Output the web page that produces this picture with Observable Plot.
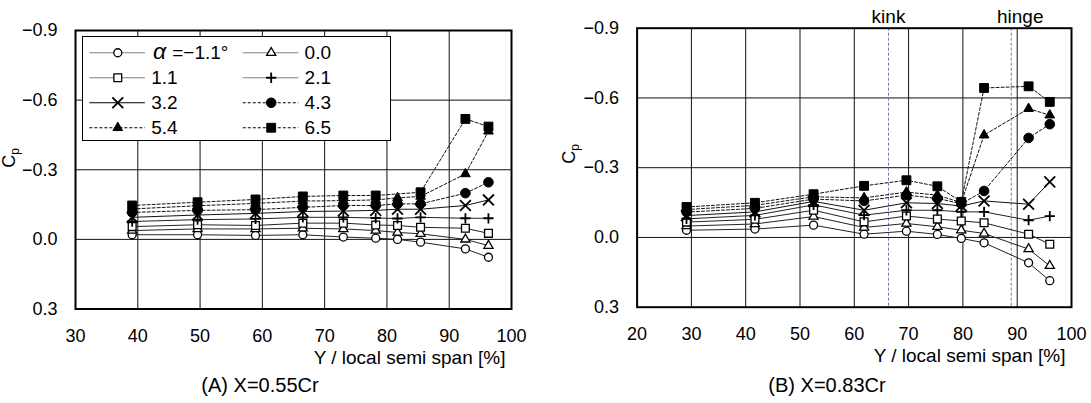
<!DOCTYPE html>
<html>
<head>
<meta charset="utf-8">
<script src="https://cdn.jsdelivr.net/npm/d3@7"></script>
<script src="https://cdn.jsdelivr.net/npm/@observablehq/plot@0.6"></script>
<style>
  body { margin: 0; background: #fff; font-family: "Liberation Sans", Arial, sans-serif; }
  #root { position: relative; width: 1091px; height: 403px; overflow: hidden; }
  .panel { position: absolute; top: 0; }
  .legend { position: absolute; }
  .caption { position: absolute; top: 373px; width: 300px; text-align: center; font-size: 20px; line-height: 24px; color: #000; }
</style>
</head>
<body>
<div id="root"></div>
<script>
// Angles of attack (deg) for each pressure series
const angles = ["-1.1", "0.0", "1.1", "2.1", "3.2", "4.3", "5.4", "6.5"];

// Pressure coefficient axis ticks (reversed: suction up)
const cpTicks = [-0.9, -0.6, -0.3, 0.0, 0.3];

// (A) X = 0.55 Cr : spanwise stations [%] and Cp per angle
const spanTicksA = [30, 40, 50, 60, 70, 80, 90, 100];
const spanA = [39.1, 49.6, 58.9, 66.5, 73.0, 78.2, 81.7, 85.4, 92.6, 96.3];
const cpA_m11 = [-0.020, -0.020, -0.017, -0.020, -0.010, -0.005, 0.000, 0.012, 0.041, 0.077];
const cpA_00  = [-0.038, -0.045, -0.045, -0.048, -0.045, -0.038, -0.030, -0.024, 0.000, 0.027];
const cpA_11  = [-0.055, -0.063, -0.060, -0.070, -0.070, -0.062, -0.060, -0.052, -0.048, -0.026];
const cpA_21  = [-0.077, -0.085, -0.088, -0.095, -0.095, -0.092, -0.090, -0.095, -0.091, -0.091];
const cpA_32  = [-0.095, -0.105, -0.112, -0.120, -0.122, -0.125, -0.130, -0.130, -0.146, -0.170];
const cpA_43  = [-0.116, -0.125, -0.128, -0.138, -0.146, -0.146, -0.153, -0.153, -0.199, -0.246];
const cpA_54  = [-0.131, -0.145, -0.155, -0.165, -0.167, -0.170, -0.179, -0.185, -0.282, -0.466];
const cpA_65  = [-0.146, -0.160, -0.172, -0.185, -0.189, -0.189, null, -0.203, -0.519, -0.486];

// (B) X = 0.83 Cr
const spanTicksB = [20, 30, 40, 50, 60, 70, 80, 90, 100];
const spanB = [29.1, 41.7, 52.5, 61.8, 69.6, 75.3, 79.7, 83.9, 92.1, 96.0];
const cpB_m11 = [-0.031, -0.036, -0.053, -0.014, -0.027, -0.013, 0.004, 0.023, 0.109, 0.186];
const cpB_00  = [-0.049, -0.058, -0.090, -0.043, -0.060, -0.046, -0.031, -0.017, 0.050, 0.122];
const cpB_11  = [-0.066, -0.078, -0.117, -0.067, -0.092, -0.079, -0.071, -0.063, -0.014, 0.029];
const cpB_21  = [-0.080, -0.095, -0.140, -0.096, -0.117, -0.117, -0.110, -0.110, -0.074, -0.092];
const cpB_32  = [-0.094, -0.110, -0.155, -0.117, -0.149, -0.146, -0.135, -0.157, -0.143, -0.239];
const cpB_43  = [-0.109, -0.125, -0.165, -0.157, -0.182, -0.168, -0.145, -0.200, -0.428, -0.487];
const cpB_54  = [-0.120, -0.138, -0.175, -0.170, -0.195, -0.182, -0.150, -0.440, -0.554, -0.526];
const cpB_65  = [-0.131, -0.149, -0.186, -0.222, -0.246, -0.220, -0.153, -0.643, -0.650, -0.583];

// Planform reference stations on (B)
const refNames = ["kink", "hinge"];
const refSpan = [66.3, 88.9];

const xTitle = "Y / local semi span [%]";
const captions = ["(A) X=0.55Cr", "(B) X=0.83Cr"];

// Marker / line style for each angle
const styles = [
  { symbol: "circle",   fill: "white", r: 4.0, sw: 1.3, dash: null,  line: "#222", legendLine: "#808080" },
  { symbol: "triangle", fill: "white", r: 3.4, sw: 1.3, dash: null,  line: "#222", legendLine: "#808080" },
  { symbol: "square",   fill: "white", r: 4.4, sw: 1.3, dash: null,  line: "#222", legendLine: "#808080" },
  { symbol: "plus",     fill: "none",  r: 3.4, sw: 1.8, dash: null,  line: "#222", legendLine: "#808080" },
  { symbol: "times",    fill: "none",  r: 5.0, sw: 1.8, dash: null,  line: "#111", legendLine: "#000" },
  { symbol: "circle",   fill: "black", r: 4.8, sw: 1,   dash: "3,2", line: "#111", legendLine: "#000" },
  { symbol: "triangle", fill: "black", r: 3.6, sw: 1,   dash: "3,2", line: "#111", legendLine: "#000" },
  { symbol: "square",   fill: "black", r: 5.0, sw: 1,   dash: "3,2", line: "#111", legendLine: "#000" }
];

const FONT = "Liberation Sans, Arial, sans-serif";
const fmt = d3.format(".1f");

function panel(opts) {
  const { span, series, ticks, width, marginLeft, marginRight, marginTop, frameBottom, refs, cpLabelX, cpLabelY } = opts;
  const height = 372;
  const gridX = ticks.slice(1, -1);
  const marks = [
    Plot.ruleX(gridX, { stroke: "#111", strokeWidth: 1 }),
    Plot.ruleY(cpTicks.slice(1, -1), { stroke: "#111", strokeWidth: 1 })
  ];
  if (refs) {
    marks.push(Plot.ruleX(refs.x, { stroke: "#7a6fc0", strokeWidth: 1, strokeDasharray: "3,2" }));
    // station names sit above the frame; "hinge" is set a little to the right of its line
    marks.push(Plot.text(refs.names.slice(0, 1), {
      x: () => refs.x[0], frameAnchor: "top", text: d => d,
      fontSize: 19, lineAnchor: "bottom", dy: -5, fill: "#000"
    }));
    marks.push(Plot.text(refs.names.slice(1), {
      x: () => refs.x[1], frameAnchor: "top", text: d => d,
      fontSize: 19, lineAnchor: "bottom", dy: -5, dx: 9, fill: "#000"
    }));
  }
  series.forEach((vals, i) => {
    const st = styles[i];
    const pts = span.map((x, j) => ({ x, cp: vals[j] })).filter(d => d.cp != null);
    marks.push(Plot.line(pts, { x: "x", y: "cp", stroke: st.line, strokeWidth: 1, strokeDasharray: st.dash }));
    marks.push(Plot.dot(pts, {
      x: "x", y: "cp", symbol: st.symbol, r: st.r,
      fill: st.fill, stroke: "#000", strokeWidth: st.sw
    }));
  });
  marks.push(Plot.frame({ stroke: "#000", strokeWidth: 2 }));
  marks.push(Plot.axisX(ticks, { tickSize: 0, tickPadding: 20, fontSize: 18, label: null, tickFormat: d => d }));
  marks.push(Plot.axisY(cpTicks, { tickSize: 0, tickPadding: 18, fontSize: 18, label: null, tickFormat: fmt }));
  marks.push(Plot.text([xTitle], {
    frameAnchor: "bottom-right", textAnchor: "end", lineAnchor: "middle",
    dy: 49, dx: -6, fontSize: 19, fill: "#000"
  }));

  const svg = Plot.plot({
    width, height, marginLeft, marginRight, marginTop,
    marginBottom: height - frameBottom,
    style: { fontFamily: FONT, background: "white", color: "#000", overflow: "visible" },
    x: { domain: [ticks[0], ticks[ticks.length - 1]] },
    y: { domain: [0.3, -0.9] },
    marks
  });

  // Rotated Cp axis title with subscript
  const t = d3.select(svg).append("text")
    .attr("transform", `translate(${cpLabelX},${cpLabelY}) rotate(-90)`)
    .attr("text-anchor", "middle")
    .attr("font-size", 18)
    .attr("font-family", FONT)
    .attr("fill", "#000");
  t.append("tspan").text("C");
  t.append("tspan").attr("font-size", 12).attr("dy", 4).text("p");
  return svg;
}

function legend() {
  const entries = angles.map((a, i) => ({ i, col: i % 2, row: Math.floor(i / 2), label: a }));
  const marks = [Plot.frame({ fill: "white", stroke: "#000", strokeWidth: 1 })];
  entries.forEach(e => {
    const st = styles[e.i];
    marks.push(Plot.ruleY([e], {
      y: "row", x1: d => d.col + 0.048, x2: d => d.col + 0.41,
      stroke: st.legendLine, strokeWidth: 1.2, strokeDasharray: st.dash
    }));
    marks.push(Plot.dot([e], {
      y: "row", x: d => d.col + 0.23, symbol: st.symbol, r: st.r,
      fill: st.fill, stroke: "#000", strokeWidth: st.sw
    }));
  });
  const rest = entries.slice(1);
  marks.push(Plot.text(rest, {
    y: "row", x: d => d.col + 0.448, text: "label", textAnchor: "start", fontSize: 19, fill: "#000"
  }));
  marks.push(Plot.text(entries.slice(0, 1), {
    y: "row", x: d => d.col + 0.46, text: () => "α", textAnchor: "start",
    fontSize: 23, fontStyle: "italic", fill: "#000", dy: -1
  }));
  marks.push(Plot.text(entries.slice(0, 1), {
    y: "row", x: d => d.col + 0.585, text: d => "=" + d.label.replace("-", "−") + "°",
    textAnchor: "start", fontSize: 19, fill: "#000"
  }));
  return Plot.plot({
    width: 308, height: 104, margin: 0,
    style: { fontFamily: FONT, background: "transparent", overflow: "visible" },
    x: { domain: [0, 2], range: [0, 306.8], axis: null },
    y: { domain: [-0.65, 3.51], range: [0, 104], axis: null },
    marks
  });
}

const root = document.getElementById("root");

const left = panel({
  span: spanA,
  series: [cpA_m11, cpA_00, cpA_11, cpA_21, cpA_32, cpA_43, cpA_54, cpA_65],
  ticks: spanTicksA, width: 545, marginLeft: 75, marginRight: 34, marginTop: 30, frameBottom: 308.5,
  refs: null, cpLabelX: 15, cpLabelY: 158
});
left.classList.add("panel");
left.style.left = "0px";
root.appendChild(left);

const right = panel({
  span: spanB,
  series: [cpB_m11, cpB_00, cpB_11, cpB_21, cpB_32, cpB_43, cpB_54, cpB_65],
  ticks: spanTicksB, width: 546, marginLeft: 91.6, marginRight: 20, marginTop: 27.7, frameBottom: 306.7,
  refs: { x: refSpan, names: refNames }, cpLabelX: 30, cpLabelY: 154
});
right.classList.add("panel");
right.style.left = "545px";
root.appendChild(right);

const lg = legend();
lg.classList.add("legend");
lg.style.left = "82px";
lg.style.top = "36px";
root.appendChild(lg);

captions.forEach((c, i) => {
  const d = document.createElement("div");
  d.className = "caption";
  d.textContent = c;
  d.style.left = (i === 0 ? 260 - 150 : 827 - 150) + "px";
  root.appendChild(d);
});
</script>
</body>
</html>
